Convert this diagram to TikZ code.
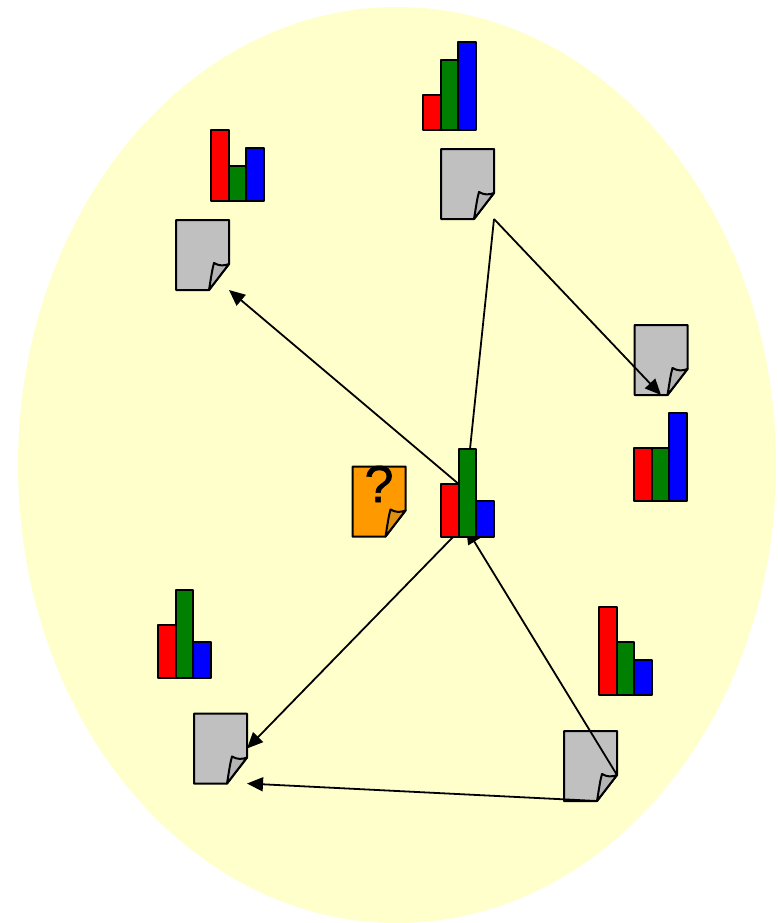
\documentclass[tikz,border=0pt]{standalone}
\usepackage{fontspec}
\setsansfont{Liberation Sans}
\newfontfamily\askfont[RawFeature={embolden=1.2}]{Liberation Sans}
\usetikzlibrary{arrows.meta}

\definecolor{cloud}{HTML}{FFFFCC}
\definecolor{sheet}{HTML}{C0C0C0}
\definecolor{sheetfold}{HTML}{B4B4B4}
\definecolor{query}{HTML}{FF9900}
\definecolor{queryfold}{HTML}{E0900F}
\definecolor{bargreen}{HTML}{007F00}

\pgfdeclarelayer{sheets}
\pgfdeclarelayer{wires}
\pgfsetlayers{sheets,wires,main}

\tikzset{
  outline/.style={draw=black, line width=2pt, line join=round},
  docbox/.style={minimum width=53pt, minimum height=70pt, inner sep=0pt, outer sep=0pt, anchor=north west},
  barbox/.style={outline, minimum width=17.7pt, inner sep=0pt, outer sep=0pt, anchor=south west},
  link/.style={draw=black, line width=1.8pt, -{Triangle[length=16pt,width=14pt]}},
  linkplain/.style={draw=black, line width=1.8pt}
}

% doc: name, x, y, paper colour, fold colour
\newcommand{\docsheet}[5]{
\begin{scope}[shift={(#2,#3)}]
\draw[outline, fill=#4] (0,0) -- (53,0) -- (53,44) -- (33,70) -- (0,70) -- cycle;
\draw[outline, fill=#5] (33,70) .. controls (35,58) and (36,50) .. (38,43) .. controls (43,46) and (48,46) .. (53,44) -- cycle;
\node[docbox] (#1) at (0,0) {};
\coordinate (#1side) at (53,44);
\coordinate (#1fold) at (33,70);
\end{scope}
}

% chart: name, x, base y, three bar heights
\newcommand{\barchart}[6]{
\node[barbox, fill=red, minimum height=#4pt] (#1a) at (#2,#3) {};
\node[barbox, fill=bargreen, minimum height=#5pt] (#1b) at (#2+17.7,#3) {};
\node[barbox, fill=blue, minimum height=#6pt] (#1c) at (#2+35.4,#3) {};
}

\begin{document}
\begin{tikzpicture}[x=1pt, y=-1pt]
\useasboundingbox (0,0) rectangle (778,923);

\begin{pgfonlayer}{sheets}
\fill[white] (0,0) rectangle (778,923);
\fill[cloud] (397,465) ellipse [x radius=379, y radius=458];

\docsheet{docT}{441}{149}{sheet}{sheetfold}
\docsheet{docL}{176}{220}{sheet}{sheetfold}
\docsheet{docR}{634.5}{325}{sheet}{sheetfold}
\docsheet{docQ}{352.5}{466.5}{query}{queryfold}
\docsheet{docB}{194}{713.5}{sheet}{sheetfold}
\docsheet{docS}{564}{731}{sheet}{sheetfold}

\node[font=\askfont\fontsize{52}{52}\selectfont, text=black, inner sep=0pt] (askmark) at (379,484) {?};
\end{pgfonlayer}

\barchart{chartT}{423}{130}{35}{70}{88}
\barchart{chartL}{211}{201}{71}{35}{53}
\barchart{chartR}{634}{501}{53}{53}{88}
\barchart{chartC}{441}{537}{53}{88}{36}
\barchart{chartB}{158}{678}{53}{88}{36}
\barchart{chartS}{599}{695}{88}{53}{35}

\coordinate (chartCtop) at (470,449);
\coordinate (chartCleft) at (453,537);
\coordinate (chartCfoot) at (466,528);

\begin{pgfonlayer}{wires}
\draw[linkplain] (chartCtop) -- (docT.south east);
\draw[link] (docT.south east) -- (docR.south);
\draw[link] (chartCa.north east) -- (docL.south east);
\draw[link] (chartCleft) -- (docB.east);
\draw[link] (docSside) -- (chartCfoot);
\draw[link] (docSfold) -- (docB.south east);
\end{pgfonlayer}
\end{tikzpicture}
\end{document}
